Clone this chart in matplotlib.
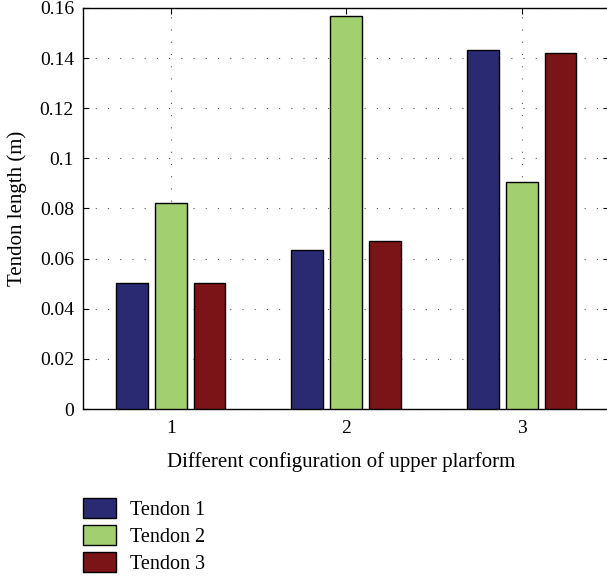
import numpy as np
import matplotlib
matplotlib.use("Agg")
import matplotlib.pyplot as plt
from matplotlib.patches import Patch

configs = [1, 2, 3]
tendon1 = [0.0503, 0.0634, 0.1433]
tendon2 = [0.0822, 0.1568, 0.0906]
tendon3 = [0.0503, 0.0670, 0.1420]
series_names = ["Tendon 1", "Tendon 2", "Tendon 3"]
colors = ["#2a2a72", "#a2d06f", "#7a1416"]

plt.rcParams['font.family'] = ['Liberation Serif', 'DejaVu Serif']

fig = plt.figure(figsize=(6.07, 5.79), dpi=100)
ax = fig.add_axes([0.1367, 0.2936, 0.8674, 0.6926])

x = np.array(configs, dtype=float)
offsets = [-0.222, 0.0, 0.222]
width = 0.18
for vals, off, c in zip([tendon1, tendon2, tendon3], offsets, colors):
    ax.bar(x + off, vals, width=width, color=c, edgecolor="black", linewidth=1.0, zorder=3)

ax.set_xlim(0.5, 3.5)
ax.set_ylim(0, 0.16)
ax.set_xticks(configs)
ax.set_yticks(np.arange(0, 0.161, 0.02))
ax.set_yticklabels(["0", "0.02", "0.04", "0.06", "0.08", "0.1", "0.12", "0.14", "0.16"])
ax.tick_params(direction="in", top=True, right=True, labelsize=14, length=4)
ax.tick_params(axis="x", pad=8)
ax.tick_params(axis="y", pad=6.5)
ax.grid(True, linestyle=(0, (1, 10)), color="#555555", linewidth=0.8, zorder=0)
for s in ax.spines.values():
    s.set_linewidth(1.0)

ax.set_xlabel("Different configuration of upper plarform", fontsize=15, labelpad=11)
ax.xaxis.label.set_x(0.49)
ax.set_ylabel("Tendon length (m)", fontsize=15, labelpad=9)

handles = [Patch(facecolor=c, edgecolor="black", label=n) for c, n in zip(colors, series_names)]
fig.legend(handles=handles, loc="upper left", bbox_to_anchor=(0.1367, 0.1400), frameon=False,
           fontsize=14.5, handlelength=1.64, handleheight=1.15, labelspacing=0.26,
           handletextpad=0.7, borderpad=0, borderaxespad=0)

fig.savefig("out.png", dpi=100)
